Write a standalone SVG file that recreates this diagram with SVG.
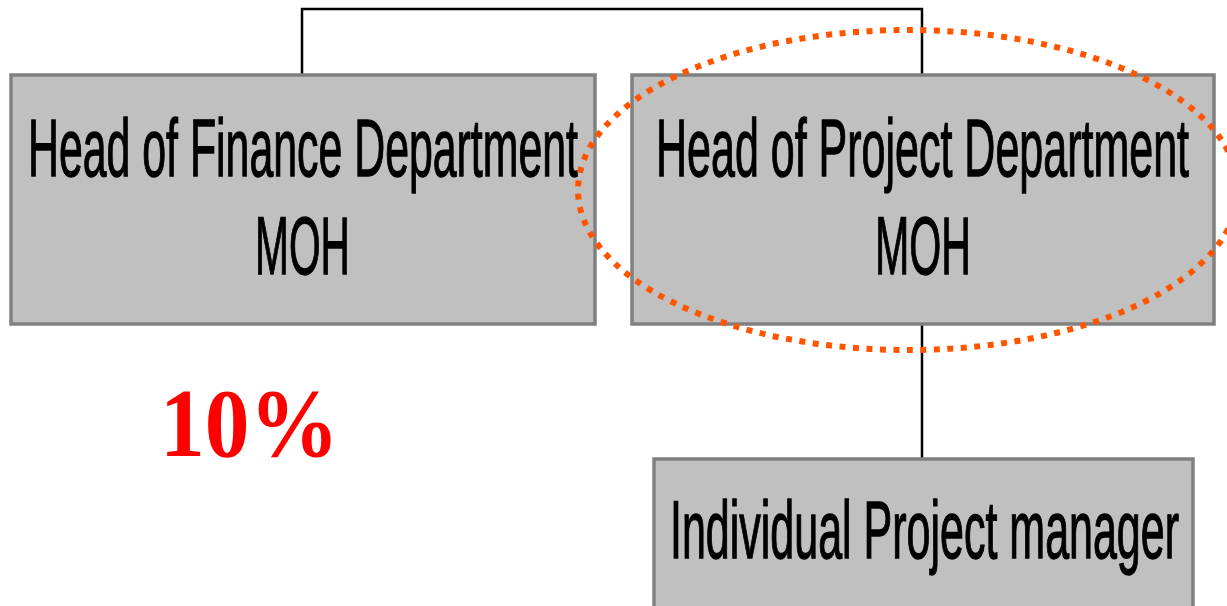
<svg xmlns="http://www.w3.org/2000/svg" width="1227" height="606" viewBox="0 0 1227 606">
<style>
.box{fill:#c0c0c0;stroke:#808080;stroke-width:3.5}
.lbl{font-family:"Liberation Sans",Arial,sans-serif;font-size:82px;fill:#000;stroke:#000;stroke-width:1.3}
.conn{fill:none;stroke:#000;stroke-width:2.5}
.hl{fill:none;stroke:#ff5500;stroke-width:6;stroke-dasharray:6 7.5}
.pct{font-family:"Liberation Serif","Times New Roman",serif;font-weight:bold;font-size:98px;fill:#ff0000}
</style>
<rect width="1227" height="606" fill="#fff"/>
<g id="connectors">
<path class="conn" d="M302 74 V9 H922 V74"/>
<path class="conn" d="M922 325 V458"/>
</g>
<g id="finance">
<rect class="box" x="11" y="75" width="584" height="249"/>
<text class="lbl" x="28" y="176" textLength="550" lengthAdjust="spacingAndGlyphs">Head of Finance Department</text>
<text class="lbl" x="255" y="274" textLength="95" lengthAdjust="spacingAndGlyphs">MOH</text>
</g>
<g id="project">
<rect class="box" x="632" y="75" width="582" height="249"/>
<text class="lbl" x="656" y="176" textLength="533" lengthAdjust="spacingAndGlyphs">Head of Project Department</text>
<text class="lbl" x="875" y="274" textLength="96" lengthAdjust="spacingAndGlyphs">MOH</text>
</g>
<g id="manager">
<rect class="box" x="654" y="459" width="539" height="160"/>
<text class="lbl" x="670" y="558" textLength="509" lengthAdjust="spacingAndGlyphs">Individual Project manager</text>
</g>
<g id="highlight">
<ellipse class="hl" cx="908" cy="190" rx="330" ry="160"/>
</g>
<g id="percent">
<text class="pct" x="160" y="456" textLength="179" lengthAdjust="spacingAndGlyphs">10%</text>
</g>
</svg>
